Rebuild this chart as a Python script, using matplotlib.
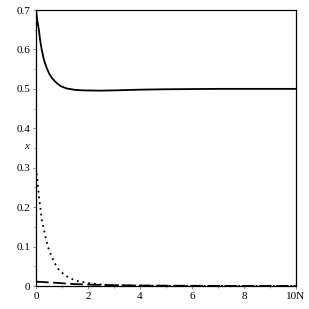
import matplotlib
matplotlib.use("Agg")
import matplotlib.pyplot as plt
from matplotlib.ticker import MultipleLocator

plt.rcParams['font.family'] = ['Liberation Serif', 'DejaVu Serif']

t_solid = [0, 0.05, 0.11, 0.16, 0.21, 0.3, 0.41, 0.52, 0.62, 0.73, 0.85, 0.95, 1.18, 1.5, 1.81, 2.5, 3.2, 4.0, 5.0, 6.0, 7.0, 8.0, 10.0]
solid_vals = [0.7, 0.673, 0.65, 0.623, 0.603, 0.575, 0.553, 0.537, 0.527, 0.519, 0.512, 0.507, 0.501, 0.4975, 0.4962, 0.4955, 0.4965, 0.498, 0.499, 0.4995, 0.5, 0.5, 0.5]

t_dotted = [0, 0.06, 0.09, 0.13, 0.18, 0.23, 0.28, 0.37, 0.46, 0.57, 0.71, 0.89, 1.12, 1.34, 1.55, 1.9, 2.15, 2.48, 3.0, 4.0, 6.0, 10.0]
dotted_vals = [0.3, 0.264, 0.243, 0.217, 0.192, 0.166, 0.15, 0.124, 0.099, 0.08, 0.059, 0.04, 0.027, 0.019, 0.013, 0.009, 0.006, 0.004, 0.0022, 0.001, 0.0003, 0.0]

t_dashed = [0, 0.67, 1.45, 2.2, 3.0, 4.0, 5.0, 6.0, 8.0, 10.0]
dashed_vals = [0.011, 0.0085, 0.005, 0.0033, 0.002, 0.0012, 0.0008, 0.0005, 0.0002, 0.0001]

x_ticks = [0, 2, 4, 6, 8, 10]
x_ticklabels = ['0', '2', '4', '6', '8', '10N']
y_ticks = [0, 0.1, 0.2, 0.3, 0.4, 0.5, 0.6, 0.7]
y_ticklabels = ['0', '0.1', '0.2', '0.3', '0.4', '0.5', '0.6', '0.7']

fig = plt.figure(figsize=(3.09, 3.09), dpi=100)
ax = fig.add_axes([0.1165, 0.0744, 0.8415, 0.8932])

ax.plot(t_solid, solid_vals, color='black', lw=1.3, linestyle='-')
ax.plot(t_dotted, dotted_vals, color='black', lw=1.3, linestyle=(0, (1, 2.2)))
ax.plot(t_dashed, dashed_vals, color='black', lw=1.3, linestyle=(0, (7, 2.5)))

ax.set_xlim(0, 10)
ax.set_ylim(0, 0.7)
ax.set_xticks(x_ticks)
ax.set_xticklabels(x_ticklabels)
ax.set_yticks(y_ticks)
ax.set_yticklabels(y_ticklabels)
ax.xaxis.set_minor_locator(MultipleLocator(1))
ax.yaxis.set_minor_locator(MultipleLocator(0.05))
ax.tick_params(axis='both', which='major', labelsize=8, length=2, width=0.5, pad=2, color='#666666')
ax.tick_params(axis='both', which='minor', length=1.5, width=0.5, color='#666666')
for s in ax.spines.values():
    s.set_linewidth(0.9)

ax.set_ylabel('x', fontsize=8, style='italic', rotation=0, labelpad=4)
ax.yaxis.set_label_coords(-0.035, 0.49)

fig.savefig('out.png', dpi=100)
